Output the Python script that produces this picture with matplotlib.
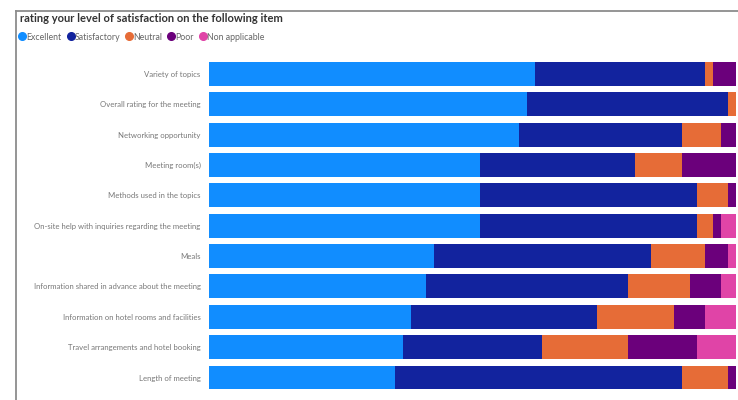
import numpy as np
import matplotlib
matplotlib.use("Agg")
import matplotlib.pyplot as plt
from matplotlib.lines import Line2D

plt.rcParams['font.family'] = ['Lato', 'DejaVu Sans']

# Survey items, top to bottom
items = [
    "Variety of topics",
    "Overall rating for the meeting",
    "Networking opportunity",
    "Meeting room(s)",
    "Methods used in the topics",
    "On-site help with inquiries regarding the meeting",
    "Meals",
    "Information shared in advance about the meeting",
    "Information on hotel rooms and facilities",
    "Travel arrangements and hotel booking",
    "Length of meeting",
]

# Response counts per item
excellent = [42, 41, 40, 35, 35, 35, 29, 28, 26, 25, 24]
satisfactory = [22, 26, 21, 20, 28, 28, 28, 26, 24, 18, 37]
neutral = [1, 1, 5, 6, 4, 2, 7, 8, 10, 11, 6]
poor = [3, 0, 2, 7, 1, 1, 3, 4, 4, 9, 1]
not_applicable = [0, 0, 0, 0, 0, 2, 1, 2, 4, 5, 0]

categories = ["Excellent", "Satisfactory", "Neutral", "Poor", "Non applicable"]
colors = ["#118DFF", "#12239E", "#E66C37", "#6B007B", "#E044A7"]

counts = np.array([excellent, satisfactory, neutral, poor, not_applicable], dtype=float)
shares = counts / counts.sum(axis=0) * 100

W, H = 738, 400
fig = plt.figure(figsize=(W / 100, H / 100), dpi=100)

# axes placed in pixel terms
row_h = 30.35
top_px = 74 - row_h / 2
ax_h = row_h * len(items)
ax = fig.add_axes([209 / W, (H - top_px - ax_h) / H, (736 - 209) / W, ax_h / H])

y = np.arange(len(items))
left = np.zeros(len(items))
for share, col, name in zip(shares, colors, categories):
    ax.barh(y, share, left=left, height=0.79, color=col, label=name, linewidth=0)
    left += share

ax.set_xlim(0, 100)
ax.set_ylim(len(items) - 0.5, -0.5)
ax.set_yticks(y)
ax.set_yticklabels(items, fontsize=5.6, color="#777777")
ax.tick_params(axis="y", length=0, pad=6)
ax.set_xticks([])
for s in ax.spines.values():
    s.set_visible(False)

# title
fig.text(20 / W, 1 - 18 / H, "rating your level of satisfaction on the following item",
         fontsize=8.0, color="#333333", fontweight="bold", va="center", ha="left")

# legend row
handles = [Line2D([], [], marker="o", linestyle="", markersize=5.5, color=c) for c in colors]
fig.legend(handles, categories, loc="center left", bbox_to_anchor=(17 / W, 1 - 37 / H),
           ncol=5, frameon=False, fontsize=6.3, labelcolor="#666666",
           handletextpad=-0.1, columnspacing=0.4, handlelength=1.2, borderaxespad=0,
           borderpad=0)

# frame lines
fig.add_artist(Line2D([16 / W, 16 / W], [0, 1 - 11 / H], color="#8c8c8c", lw=1.3))
fig.add_artist(Line2D([16 / W, 1], [1 - 11 / H, 1 - 11 / H], color="#8c8c8c", lw=1.3))

fig.savefig("out.png", dpi=100)
